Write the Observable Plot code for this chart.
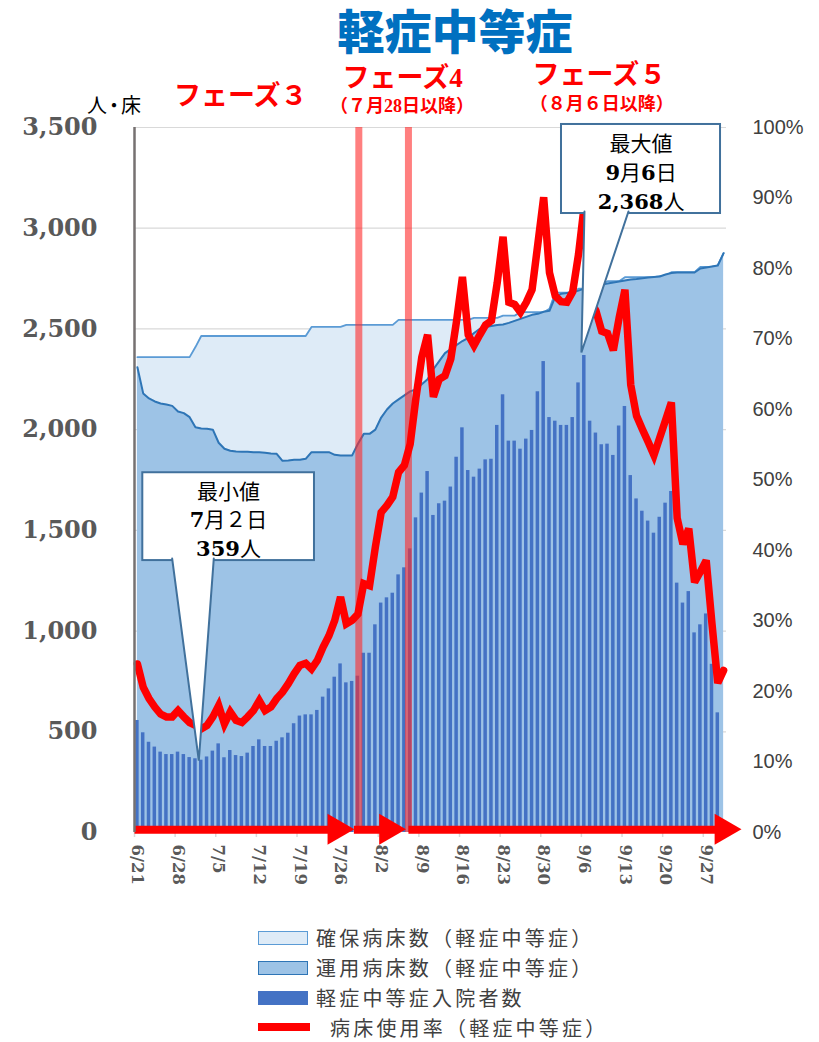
<!DOCTYPE html>
<html>
<head>
<meta charset="utf-8">
<script src="https://cdn.jsdelivr.net/npm/d3@7"></script>
<script src="https://cdn.jsdelivr.net/npm/@observablehq/plot@0.6"></script>
<style>
  body { margin:0; background:#fff; width:819px; height:1042px; position:relative; overflow:hidden;
         font-family:"Noto Sans CJK JP", sans-serif; }
  #title { position:absolute; left:455px; top:13px; transform:translateX(-50%); white-space:nowrap;
           font-family:"Liberation Sans","Noto Sans CJK JP",sans-serif;
           font-size:47px; line-height:40px; font-weight:900; color:#0070C0; }
  #chart { position:absolute; left:0; top:55px; }
  .sw { position:absolute; left:258px; width:50px; height:14px; box-sizing:border-box; }
  .lt { position:absolute; left:316px; font-size:20px; line-height:24px; letter-spacing:3.2px;
        color:#404040; white-space:nowrap; }
</style>
</head>
<body>
<div id="title">軽症中等症</div>
<div id="chart"></div>

<div class="sw" style="top:931px;background:#DEEBF7;border:1px solid #5B9BD5;"></div>
<div class="lt" style="top:926px;">確保病床数（軽症中等症）</div>
<div class="sw" style="top:961px;background:#9DC3E6;border:1px solid #2E75B6;"></div>
<div class="lt" style="top:956px;">運用病床数（軽症中等症）</div>
<div class="sw" style="top:991px;background:#4472C4;"></div>
<div class="lt" style="top:986px;">軽症中等症入院者数</div>
<div class="sw" style="top:1023px;height:8px;width:52px;background:#ff0000;"></div>
<div class="lt" style="top:1016px;left:330px;">病床使用率（軽症中等症）</div>

<script>
// ---- data (day index 0 = 6/21 ... 101 = 9/30) ----
const patients = [
  556,495,448,424,399,387,387,399,387,372,
  366,359,375,404,440,371,407,382,377,394,
  427,460,427,427,453,470,493,540,578,584,
  584,606,672,713,771,837,743,750,776,890,
  890,1031,1139,1165,1188,1279,1314,1408,1562,1685,
  1792,1574,1632,1645,1715,1863,2009,1797,1764,1804,
  1850,1853,2021,2173,1943,1943,1903,1953,1996,2188,
  2338,2060,2042,2021,2021,2060,2232,2368,2042,1983,
  1925,1928,1872,2018,2115,1772,1656,1595,1546,1486,
  1565,1635,1693,1238,1139,1196,991,1031,1085,835,
  594,null
];
const securedBeds = [
  2360,2360,2360,2360,2360,2360,2360,2360,2360,2360,
  2410,2465,2465,2465,2465,2465,2465,2465,2465,2465,
  2465,2465,2465,2465,2465,2465,2465,2465,2465,2465,
  2510,2510,2510,2510,2510,2510,2520,2520,2520,2520,
  2520,2520,2520,2520,2520,2545,2545,2545,2545,2545,
  2545,2545,2545,2545,2545,2545,2545,2545,2555,2555,
  2555,2555,2555,2566,2566,2566,2583,2583,2583,2583,
  2583,2600,2680,2680,2680,2680,2700,2700,2720,2720,
  2720,2737,2737,2737,2757,2757,2757,2757,2757,2757,
  2762,2762,2782,2782,2782,2782,2782,2808,2808,2808,
  2815,2876
];
const operatingBeds = [
  2310,2180,2155,2140,2130,2125,2118,2090,2082,2062,
  2012,2006,2004,2000,1935,1905,1895,1891,1890,1890,
  1888,1888,1885,1882,1880,1845,1847,1850,1850,1855,
  1888,1888,1888,1888,1875,1872,1872,1872,1930,1979,
  1979,2000,2060,2100,2130,2150,2170,2190,2200,2225,
  2250,2300,2340,2380,2400,2420,2440,2455,2480,2500,
  2510,2515,2520,2522,2530,2540,2550,2560,2570,2575,
  2585,2590,2660,2674,2678,2682,2690,2700,2710,2715,
  2720,2725,2730,2735,2740,2745,2748,2752,2755,2758,
  2760,2770,2778,2780,2780,2780,2780,2800,2805,2810,
  2815,2876
];
const usageRate = [
  23.9,20.6,19.0,17.8,16.8,16.4,16.4,17.3,16.4,15.6,
  15.2,14.7,15.2,16.4,18.0,15.4,17.1,15.9,15.6,16.4,
  17.3,18.7,17.3,17.8,19.0,19.9,21.1,22.5,23.7,24.0,
  23.2,24.4,26.3,27.9,30.1,33.4,29.6,30.1,31.0,35.3,
  35.0,40.5,45.4,46.4,47.6,51.1,52.1,55.1,61.7,67.4,
  70.6,61.8,64.3,64.8,67.2,72.6,78.8,70.6,69.1,70.6,
  72.0,72.6,78.0,84.5,75.2,74.9,73.8,75.2,77.0,83.5,
  90.1,79.4,76.1,75.3,75.2,76.7,82.0,89.0,75.5,74.0,
  71.1,70.8,68.4,73.0,77.0,63.5,59.1,57.2,55.4,53.5,
  56.0,58.5,61.0,44.6,40.9,43.1,35.5,37.0,38.6,29.6,
  21.2,23.0
];
const tickLabels = ["6/21","6/28","7/5","7/12","7/19","7/26","8/2","8/9","8/16","8/23","8/30","9/6","9/13","9/20","9/27"];
const tickDays   = [0,7,14,21,28,35,42,49,56,63,70,77,84,91,98];
const leftTicks  = [0,500,1000,1500,2000,2500,3000,3500];
const rateTicks  = [0,10,20,30,40,50,60,70,80,90,100];

// phase annotations (in day index / value units)
const phaseLines  = [38.15, 46.7];
const phaseArrows = [
  {from:-0.5, to:35.0, head:34.3},
  {from:37.3, to:44.0, head:43.2},
  {from:46.7, to:101.5, head:101.0}
];
const phaseTitles = [
  {x:17.8, y:3657, text:"フェーズ３"},
  {x:45.7, y:3746, text:"フェーズ4"},
  {x:79.6, y:3761, text:"フェーズ５"}
];
const phaseNotes = [
  {x:45.6, y:3604, text:"（７月28日以降）"},
  {x:80.0, y:3614, text:"（８月６日以降）"}
];
const callouts = [
  {label:"最小値\n7月２日\n359人", box:[0.93,30.51,1350,1786], at:[15.7,1561],
   pointer:[[5.99,1360],[10.58,357],[13.16,1360]]},
  {label:"最大値\n9月6日\n2,368人", box:[73.07,100.47,3073,3515], at:[86.77,3286],
   pointer:[[77.03,3083],[76.5,2383],[84.61,3083]]}
];

const data = patients.map((p, i) => ({
  i, patients: p, secured: securedBeds[i], operating: operatingBeds[i], rate: usageRate[i]
}));

const cjk = "Noto Sans CJK JP";
const serif = "DejaVu Serif";
const headFont = "Liberation Mono, Noto Sans CJK JP";

const chart = Plot.plot({
  width: 819, height: 845,
  marginTop: 72, marginBottom: 68, marginLeft: 134, marginRight: 93,
  x: {type: "linear", domain: [-0.5, 101.5], axis: null, label: null},
  y: {domain: [0, 3500], axis: null, label: null},
  style: {overflow: "visible", background: "transparent"},
  marks: [
    Plot.ruleY(leftTicks.slice(1), {stroke: "#d9d9d9", strokeWidth: 1.2}),
    Plot.areaY(data, {x: "i", y: "secured", fill: "#DEEBF7"}),
    Plot.lineY(data, {x: "i", y: "secured", stroke: "#5B9BD5", strokeWidth: 1.8}),
    Plot.areaY(data, {x: "i", y: "operating", fill: "#9DC3E6"}),
    Plot.lineY(data, {x: "i", y: "operating", stroke: "#2E75B6", strokeWidth: 2}),
    Plot.rect(data.filter(d => d.patients != null), {
      x1: d => d.i - 0.3, x2: d => d.i + 0.3, y1: 0, y2: "patients", fill: "#4472C4"
    }),
    Plot.ruleX(phaseLines, {x: d => d, y1: 0, y2: 3500, stroke: "#ff2a2a", strokeWidth: 7, strokeOpacity: 0.6}),
    Plot.lineY(data, {x: "i", y: d => d.rate * 35, stroke: "#ff0000", strokeWidth: 7.5,
      strokeLinejoin: "miter", strokeMiterlimit: 3}),
    Plot.ruleX(tickDays, {x: d => d - 0.5, y1: 0, y2: -25, stroke: "#d9d9d9", strokeWidth: 1.5}),
    Plot.link(phaseArrows, {x1: "from", x2: "to", y1: 14, y2: 14, stroke: "#ff0000", strokeWidth: 8}),
    Plot.dot(phaseArrows, {x: "head", y: 16, symbol: "triangle", r: 11.5, rotate: 90, fill: "#ff0000"}),
    Plot.ruleX([-0.5], {y1: 0, y2: 3500, stroke: "#767171", strokeWidth: 2.5}),
    Plot.axisY({anchor: "left", ticks: leftTicks, tickFormat: d3.format(","), tickSize: 0, tickPadding: 37,
      fontSize: 24, fontFamily: serif, fontWeight: "bold", fill: "#595959", label: null}),
    Plot.axisY({anchor: "right", ticks: rateTicks.map(r => r * 35), tickFormat: v => Math.round(v / 35) + "%",
      tickSize: 0, tickPadding: 26, fontSize: 20, fontFamily: "Liberation Sans", fill: "#404040", label: null}),
    Plot.axisX({anchor: "bottom", ticks: tickDays, tickFormat: d => tickLabels[tickDays.indexOf(d)],
      tickRotate: 90, tickSize: 0, tickPadding: 12, fontSize: 16.5, fontFamily: serif, fontWeight: "bold",
      fill: "#595959", label: null}),
    // callouts
    Plot.rect(callouts, {x1: d => d.box[0], x2: d => d.box[1], y1: d => d.box[2], y2: d => d.box[3],
      fill: "white", stroke: "#41719C", strokeWidth: 2}),
    ...callouts.map(c => Plot.line(c.pointer, {x: p => p[0], y: p => p[1], fill: "white",
      stroke: "#41719C", strokeWidth: 2, strokeLinejoin: "miter"})),
    Plot.text(callouts, {x: d => d.at[0], y: d => d.at[1], text: "label", fontSize: 21, lineHeight: 1.37,
      fontFamily: cjk, fill: "#000", ariaDescription: "mixed"}),
    // phase labels
    Plot.text(phaseTitles, {x: "x", y: "y", text: "text", fontSize: 27, fontWeight: "bold",
      fontFamily: headFont, fill: "#ff0000", ariaDescription: "mixed-head"}),
    Plot.text(phaseNotes, {x: "x", y: "y", text: "text", fontSize: 18, fontWeight: "bold",
      fontFamily: headFont, fill: "#ff0000", ariaDescription: "mixed-head"}),
    Plot.text(["人・床"], {frameAnchor: "top-left", dx: -22, dy: -29, text: d => d, fontSize: 20,
      fontFamily: cjk, fill: "#000", textAnchor: "middle", ariaDescription: "unit"})
  ]
});
document.getElementById("chart").appendChild(chart);

// render half-width digits in a bold serif, as in the original
const NS = "http://www.w3.org/2000/svg";
function mixDigits(selector, family) {
  chart.querySelectorAll(selector).forEach(t => {
    const spans = t.querySelectorAll("tspan");
    const targets = spans.length ? Array.from(spans) : [t];
    targets.forEach(el => {
      const s = el.textContent;
      el.textContent = "";
      s.split(/([0-9][0-9,]*)/).forEach(part => {
        if (!part) return;
        const sp = document.createElementNS(NS, "tspan");
        sp.textContent = part;
        if (/^[0-9]/.test(part)) {
          sp.setAttribute("font-family", family);
          sp.setAttribute("font-weight", "bold");
        }
        el.appendChild(sp);
      });
    });
  });
}
mixDigits('g[aria-description="mixed"] text', serif);
mixDigits('g[aria-description="mixed-head"] text', "Liberation Serif");
chart.querySelectorAll('g[aria-description="unit"] text').forEach(t => {
  t.setAttribute("letter-spacing", "-3");
});
</script>
</body>
</html>
